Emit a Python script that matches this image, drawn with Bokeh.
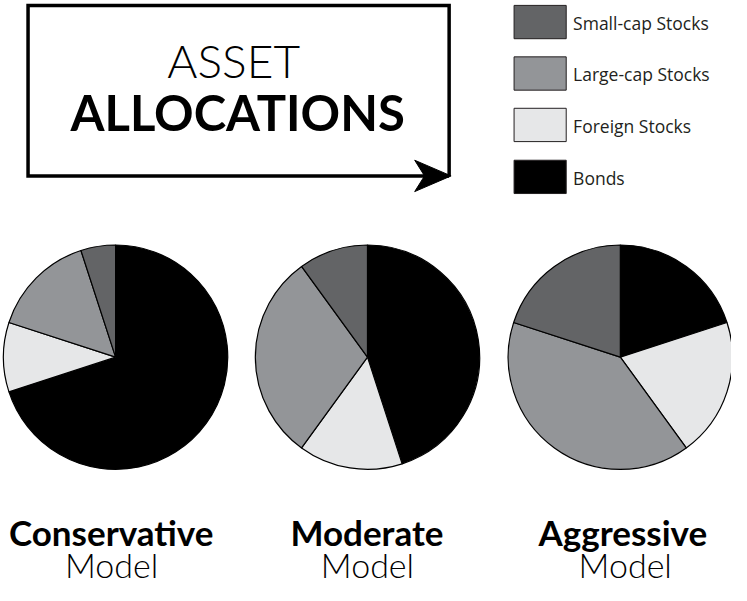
import numpy as np
from bokeh.plotting import figure
from bokeh.models import ColumnDataSource, Range1d
from bokeh.core.properties import value
from bokeh.embed import file_html
from bokeh.resources import INLINE

# ---- data ----
models = ["Conservative", "Moderate", "Aggressive"]
model_sub = ["Model", "Model", "Model"]
categories = ["Bonds", "Foreign Stocks", "Large-cap Stocks", "Small-cap Stocks"]  # clockwise from 12 o'clock
bonds = [70, 45, 20]
foreign = [10, 15, 20]
large_cap = [15, 30, 40]
small_cap = [5, 10, 20]
legend_order = ["Small-cap Stocks", "Large-cap Stocks", "Foreign Stocks", "Bonds"]
title_light = "ASSET"
title_bold = "ALLOCATIONS"

palette = {"Bonds": "#000000", "Foreign Stocks": "#e6e7e8",
           "Large-cap Stocks": "#939598", "Small-cap Stocks": "#636466"}

IMG_H = 601
def Y(y):
    return IMG_H - y

def mid(baseline, size):
    # anchor (middle) for a Lato text whose baseline sits at `baseline`
    return baseline - 0.387 * size / 0.98

p = figure(width=731, height=585, x_range=Range1d(2, 745), y_range=Range1d(0, 597),
           output_backend="svg", toolbar_location=None, min_border=0,
           x_axis_location=None, y_axis_location=None)
p.grid.visible = False
p.outline_line_color = None
p.background_fill_color = "white"
p.border_fill_color = "white"

LIGHT = value("Lato Light")
BOLD = value("Lato")

# ---- title box with arrow ----
p.line(x=[458, 30, 30, 458, 458], y=[Y(183), Y(183), Y(9), Y(9), Y(183)],
       line_color="black", line_width=3.5, line_join="miter")
p.patch(x=[460, 423, 433, 423], y=[Y(183), Y(167), Y(183), Y(199)],
        fill_color="black", line_color="black", line_width=1)
p.text(x=[239], y=[Y(mid(83, 46))], text=[title_light], text_font=LIGHT, text_font_size="46px",
       text_align="center", text_baseline="middle", text_color="black")
p.text(x=[243], y=[Y(mid(137.5, 49))], text=[title_bold], text_font=BOLD, text_font_style="bold",
       text_font_size="49px", text_align="center", text_baseline="middle", text_color="black")

# ---- legend ----
leg_y = [26, 78.5, 131, 184]
p.rect(x=[550.5] * 4, y=[Y(v) for v in leg_y], width=53, height=34,
       fill_color=[palette[c] for c in legend_order], line_color="#231f20", line_width=1)
p.text(x=[584] * 4, y=[Y(v + 1) for v in leg_y], text=legend_order, text_font=value("Open Sans"),
       text_font_size="17.5px", text_align="left", text_baseline="middle", text_color="#231f20")

# ---- pies ----
centers_x = [119, 375, 632]
series = [bonds, foreign, large_cap, small_cap]
xs, ys, st, en, fc = [], [], [], [], []
for i in range(len(models)):
    total = sum(s[i] for s in series)
    cum = 0.0
    for cat, s in zip(categories, series):
        a0 = cum / total
        cum += s[i]
        a1 = cum / total
        xs.append(centers_x[i]); ys.append(Y(368))
        st.append(np.pi / 2 - 2 * np.pi * a1)
        en.append(np.pi / 2 - 2 * np.pi * a0)
        fc.append(palette[cat])
src = ColumnDataSource(dict(x=xs, y=ys, start=st, end=en, color=fc))
p.wedge(x="x", y="y", radius=114, start_angle="start", end_angle="end",
        fill_color="color", line_color="black", line_width=1.2, source=src)

# ---- labels ----
p.text(x=[114.5, 374.5, 634.5], y=[Y(mid(560, 35))] * 3, text=models, text_font=BOLD, text_font_style="bold",
       text_font_size="35px", text_align="center", text_baseline="middle", text_color="black")
p.text(x=[115, 375, 637], y=[Y(mid(592.5, 34))] * 3, text=model_sub, text_font=LIGHT,
       text_font_size="34px", text_align="center", text_baseline="middle", text_color="black")

open("out.html", "w").write(file_html(p, INLINE))
